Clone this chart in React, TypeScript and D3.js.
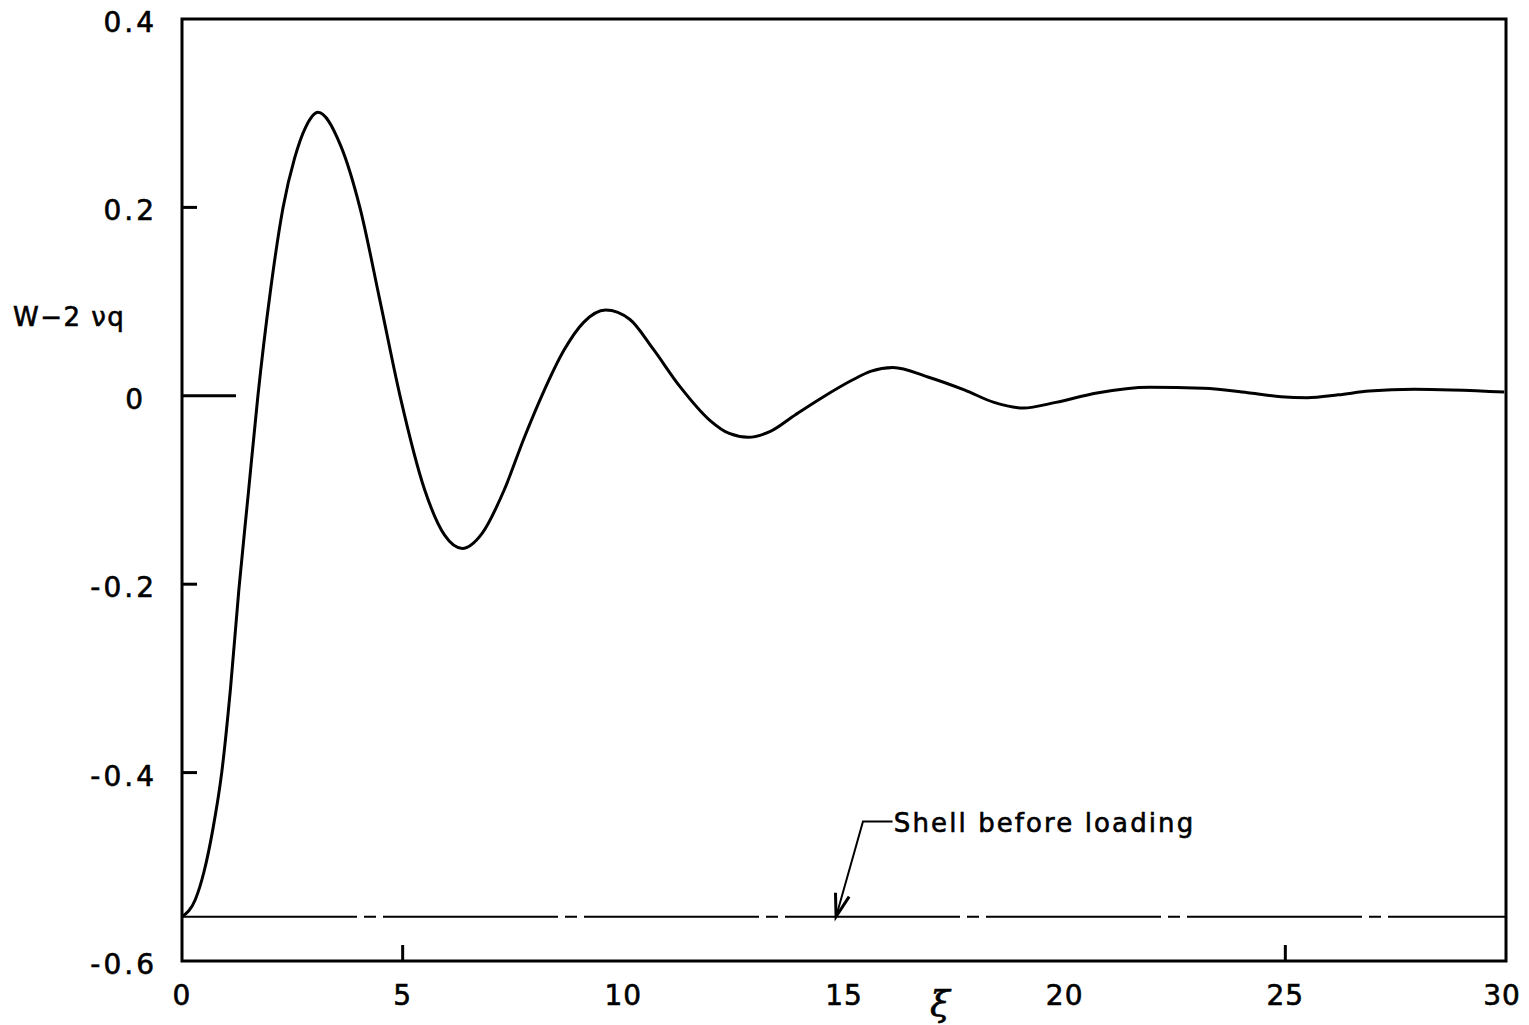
import React from 'react';
import * as d3 from 'd3';

// values
const xi = [0, 0.3, 0.5, 0.7, 0.9, 1.1, 1.29, 1.5, 1.72, 2.0, 2.29, 2.55, 2.8, 3.08, 3.6, 4.03, 4.49, 4.94, 5.5, 5.95, 6.35, 6.8, 7.3, 7.75, 8.2, 8.65, 9.1, 9.6, 10.15, 10.67, 11.28, 11.96, 12.4, 12.83, 13.32, 13.9, 14.5, 15.2, 15.6, 16.11, 16.9, 17.74, 18.4, 19.06, 19.8, 20.73, 21.93, 23.14, 24.2, 24.9, 25.5, 26.2, 26.9, 27.92, 29.96];
const w = [-0.553, -0.535, -0.505, -0.46, -0.4, -0.31, -0.205, -0.105, 0, 0.11, 0.2, 0.252, 0.285, 0.301, 0.265, 0.2, 0.1, 0, -0.1, -0.148, -0.162, -0.146, -0.1, -0.045, 0.005, 0.048, 0.078, 0.091, 0.081, 0.05, 0.01, -0.026, -0.04, -0.044, -0.038, -0.02, -0.002, 0.017, 0.026, 0.03, 0.02, 0.006, -0.007, -0.013, -0.007, 0.003, 0.009, 0.008, 0.003, -0.001, -0.002, 0.001, 0.005, 0.007, 0.004];

const shellLevel = -0.553;
const xTickValues = [0, 5, 10, 15, 20, 25, 30];
const xTickMarks = [5, 25];
const yTickValues = [0.4, 0.2, 0, -0.2, -0.4, -0.6];
const yTickLabels = ['0.4', '0.2', '0', '-0.2', '-0.4', '-0.6'];
const yTitle = 'W−2 νq';
const xTitle = 'ξ';
const noteText = 'Shell before loading';

const font = '"DejaVu Sans", sans-serif';
const ink = { fill: '#000', stroke: '#000', strokeWidth: 0.6 };

export default function App() {
  const x = d3.scaleLinear().domain([0, 30]).range([182, 1506]);
  const y = d3.scaleLinear().domain([-0.6, 0.4]).range([961, 19]);

  const line = d3
    .line<number>()
    .x((d, i) => x(xi[i]))
    .y((d) => y(d))
    .curve(d3.curveMonotoneX);

  // leader arrow for the note
  const tip: [number, number] = [x(14.82), y(shellLevel)];
  const elbow: [number, number] = [x(15.43), y(-0.452)];
  const dx = tip[0] - elbow[0];
  const dy = tip[1] - elbow[1];
  const len = Math.hypot(dx, dy);
  const ux = dx / len;
  const uy = dy / len;
  const wing = (a: number): [number, number] => {
    const c = Math.cos(a);
    const s = Math.sin(a);
    return [tip[0] - 24 * (ux * c - uy * s), tip[1] - 24 * (ux * s + uy * c)];
  };
  const w1 = wing(0.3);
  const w2 = wing(-0.3);

  return (
    <svg
      width={1529}
      height={1025}
      style={{ position: 'absolute', left: 0, top: 0, background: '#fff' }}
    >
      <rect x={x(0)} y={y(0.4)} width={x(30) - x(0)} height={y(-0.6) - y(0.4)} fill="none" stroke="#000" strokeWidth={3} />

      {/* y ticks, the zero one is long */}
      {yTickValues
        .filter((v) => v !== 0.4 && v !== -0.6)
        .map((v) => (
          <line key={'yt' + v} x1={x(0)} x2={x(0) + (v === 0 ? 54 : 15)} y1={y(v)} y2={y(v)} stroke="#000" strokeWidth={3} />
        ))}
      {xTickMarks.map((v) => (
        <line key={'xt' + v} x1={x(v)} x2={x(v)} y1={y(-0.6)} y2={y(-0.6) - 16} stroke="#000" strokeWidth={3} />
      ))}

      {yTickValues.map((v, i) => (
        <text
          key={'yl' + v}
          x={v === 0 ? 146 : 157}
          y={y(v) + 3}
          dy="0.36em"
          textAnchor="end"
          fontFamily={font}
          fontSize={28}
          letterSpacing={3}
          {...ink}
        >
          {yTickLabels[i]}
        </text>
      ))}
      {xTickValues.map((v) => (
        <text
          key={'xl' + v}
          x={x(v) - (v === 30 ? 4 : 0)}
          y={1005}
          textAnchor="middle"
          fontFamily={font}
          fontSize={28}
          letterSpacing={1}
          {...ink}
        >
          {v}
        </text>
      ))}

      <text x={13} y={326} fontFamily={font} fontSize={26} letterSpacing={1.5} {...ink}>
        {yTitle}
      </text>
      <text x={940} y={1016} textAnchor="middle" fontFamily='"DejaVu Serif", serif' fontStyle="italic" fontSize={36} {...ink}>
        {xTitle}
      </text>

      {/* shell before loading */}
      <line
        x1={x(0)}
        x2={x(30)}
        y1={y(shellLevel)}
        y2={y(shellLevel)}
        stroke="#000"
        strokeWidth={2}
        strokeDasharray="175 7 12 7"
      />
      <path d={d3.line()([[x(16.1), elbow[1]], elbow, tip])} fill="none" stroke="#000" strokeWidth={2} />
      <path d={d3.line()([w1, tip, w2])} fill="none" stroke="#000" strokeWidth={3} />
      <text x={x(16.13)} y={832} fontFamily={font} fontSize={26} letterSpacing={2.1} {...ink}>
        {noteText}
      </text>

      <path d={line(w) || ''} fill="none" stroke="#000" strokeWidth={3} strokeLinejoin="round" />
    </svg>
  );
}
